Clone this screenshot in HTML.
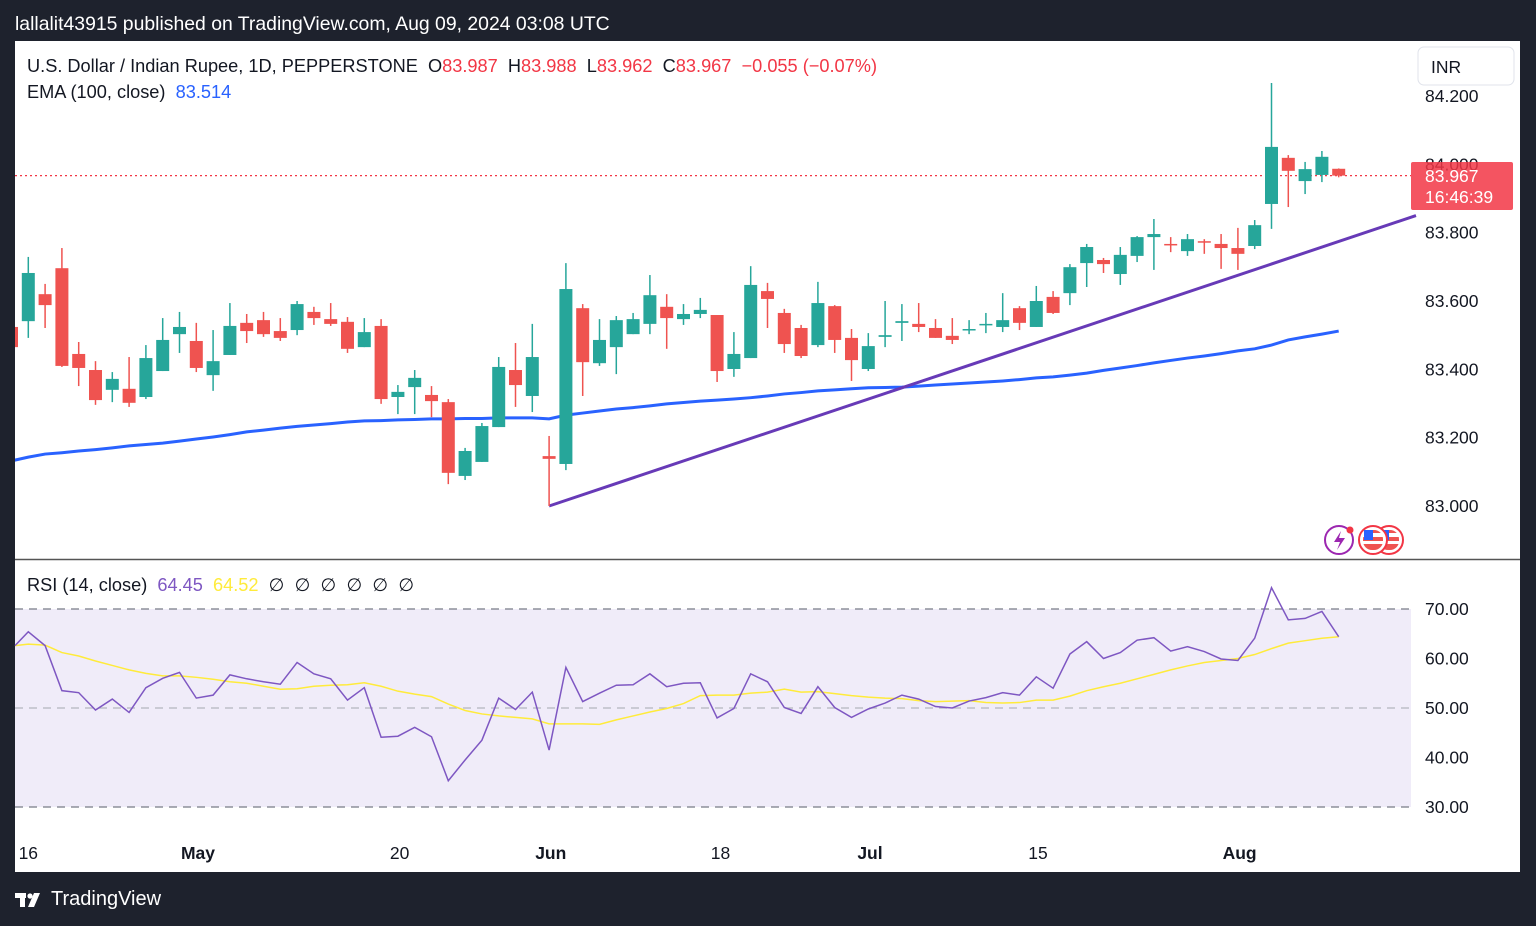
<!DOCTYPE html>
<html><head><meta charset="utf-8">
<style>
html,body{margin:0;padding:0;background:#1e222d;width:1536px;height:926px;overflow:hidden;font-family:"Liberation Sans",sans-serif;}
#hdr{position:absolute;left:15px;top:13px;color:#fff;font-size:19.4px;}
#chart{position:absolute;left:0;top:0;}
#ftr{position:absolute;left:15px;top:888px;color:#fff;font-size:20px;display:flex;align-items:center;gap:6px;}
</style></head><body>
<div id="hdr">lallalit43915 published on TradingView.com, Aug 09, 2024 03:08 UTC</div>
<svg id="chart" width="1536" height="926" xmlns="http://www.w3.org/2000/svg"></svg>
<div id="ftr"><svg width="30" height="20" viewBox="0 0 30 20"><rect x="0" y="3" width="11" height="5" fill="#fff"/><rect x="5" y="3" width="5" height="14" fill="#fff"/><circle cx="15" cy="6" r="2.6" fill="#fff"/><polygon points="19,3 25,3 19,17 13,17" fill="#fff"/></svg><span>TradingView</span></div>
<script>
const opens=[83.524,83.541,83.620,83.696,83.445,83.398,83.340,83.343,83.319,83.395,83.503,83.483,83.383,83.442,83.536,83.544,83.512,83.515,83.568,83.547,83.539,83.465,83.527,83.319,83.348,83.325,83.304,83.088,83.129,83.231,83.398,83.322,83.146,83.123,83.579,83.418,83.465,83.503,83.533,83.583,83.547,83.562,83.559,83.401,83.433,83.629,83.565,83.521,83.471,83.585,83.492,83.401,83.495,83.536,83.533,83.521,83.498,83.515,83.530,83.524,83.579,83.524,83.612,83.623,83.711,83.720,83.679,83.732,83.787,83.767,83.746,83.775,83.767,83.755,83.761,83.884,84.019,83.951,83.969,83.987];
const highs=[83.544,83.729,83.650,83.755,83.480,83.424,83.392,83.436,83.471,83.550,83.568,83.536,83.515,83.594,83.562,83.568,83.550,83.600,83.583,83.594,83.553,83.550,83.547,83.354,83.398,83.351,83.313,83.170,83.243,83.436,83.477,83.533,83.205,83.711,83.591,83.547,83.556,83.565,83.676,83.620,83.591,83.609,83.559,83.509,83.702,83.653,83.577,83.530,83.656,83.588,83.518,83.506,83.600,83.591,83.594,83.547,83.550,83.544,83.565,83.623,83.585,83.644,83.629,83.708,83.767,83.726,83.758,83.790,83.840,83.787,83.796,83.781,83.796,83.814,83.837,84.238,84.027,84.007,84.039,83.988];
const lows=[83.457,83.492,83.521,83.407,83.351,83.296,83.304,83.290,83.313,83.395,83.448,83.392,83.337,83.442,83.477,83.495,83.483,83.500,83.530,83.527,83.448,83.465,83.299,83.269,83.269,83.260,83.064,83.076,83.129,83.231,83.290,83.275,83.000,83.105,83.322,83.410,83.386,83.503,83.503,83.460,83.530,83.550,83.363,83.378,83.433,83.521,83.448,83.433,83.465,83.448,83.366,83.395,83.465,83.483,83.509,83.492,83.474,83.503,83.506,83.509,83.515,83.524,83.562,83.588,83.641,83.682,83.647,83.714,83.691,83.743,83.732,83.738,83.694,83.691,83.752,83.811,83.875,83.913,83.948,83.962];
const closes=[83.465,83.682,83.588,83.410,83.404,83.310,83.372,83.302,83.433,83.486,83.524,83.404,83.424,83.527,83.512,83.503,83.492,83.591,83.550,83.533,83.460,83.509,83.313,83.334,83.375,83.307,83.097,83.161,83.234,83.407,83.354,83.436,83.138,83.635,83.421,83.486,83.544,83.547,83.617,83.550,83.562,83.574,83.395,83.445,83.647,83.606,83.474,83.439,83.594,83.486,83.427,83.468,83.500,83.541,83.524,83.492,83.486,83.518,83.533,83.544,83.536,83.600,83.565,83.699,83.758,83.708,83.735,83.787,83.796,83.764,83.781,83.773,83.755,83.738,83.822,84.051,83.981,83.986,84.022,83.967];
const ema=[83.132,83.143,83.152,83.156,83.161,83.165,83.170,83.176,83.180,83.184,83.190,83.196,83.202,83.209,83.217,83.222,83.228,83.233,83.237,83.241,83.246,83.249,83.250,83.252,83.253,83.255,83.255,83.256,83.256,83.258,83.258,83.258,83.255,83.266,83.272,83.278,83.284,83.288,83.293,83.299,83.303,83.307,83.310,83.313,83.317,83.322,83.328,83.332,83.337,83.340,83.343,83.346,83.347,83.348,83.351,83.354,83.357,83.360,83.363,83.366,83.370,83.375,83.378,83.383,83.389,83.397,83.404,83.411,83.419,83.426,83.433,83.439,83.446,83.454,83.460,83.471,83.486,83.495,83.503,83.512];
const rsi=[62.6,65.4,62.6,53.5,53.1,49.6,51.8,49.1,54.1,56.0,57.2,52.0,52.6,56.7,55.9,55.3,54.8,59.2,56.9,55.9,51.6,54.1,44.1,44.3,46.1,44.2,35.3,39.5,43.5,52.0,49.7,53.2,41.5,58.2,51.3,53.0,54.6,54.7,56.9,54.3,55.0,55.1,48.0,49.9,56.9,55.3,50.1,48.9,54.3,50.1,48.1,49.8,51.0,52.6,51.8,50.3,50.0,51.4,52.1,53.1,52.6,56.3,54.0,60.9,63.4,60.0,61.2,63.7,64.2,61.5,62.4,61.4,59.9,59.6,64.1,74.3,67.8,68.1,69.5,64.4];
const rsiMa=[62.6,62.9,62.7,61.2,60.5,59.5,58.6,57.7,57.0,56.5,56.5,56.2,55.8,55.3,55.0,54.4,53.8,53.9,54.4,54.6,54.7,55.1,54.4,53.4,52.8,52.3,50.8,49.5,48.8,48.4,48.1,47.8,46.8,46.8,46.8,46.7,47.6,48.4,49.2,49.9,50.9,52.5,52.6,52.6,53.0,53.2,53.8,53.2,53.3,52.9,52.5,52.2,52.0,51.9,51.5,51.3,51.4,51.5,51.1,51.0,51.1,51.6,51.6,52.4,53.5,54.3,55.0,55.9,56.8,57.7,58.5,59.2,59.6,60.0,60.8,62.0,63.1,63.6,64.1,64.4];
const priceTicks=[84.2,84.0,83.8,83.6,83.4,83.2,83.0];
const rsiTicks=[70,60,50,40,30];
const timeLabels=["16","May","20","Jun","18","Jul","15","Aug"];
const timeIdx=[1,11.1,23.1,32.1,42.2,51.1,61.1,73.1];
const trendStart=[32,83.0];
const trendEnd=[83.6,83.85];
const lastPrice=83.967;

const svg=document.getElementById('chart');
const NS='http://www.w3.org/2000/svg';
const X=i=>11.5+i*16.8;
const Y=p=>506-(p-83)*341.67;
const R=v=>708-(v-50)*4.95;
function mk(tag,attrs,parent){const e=document.createElementNS(NS,tag);for(const k in attrs)e.setAttribute(k,attrs[k]);(parent||svg).appendChild(e);return e;}
function txt(x,y,s,attrs,name){const t=mk('text',Object.assign({x:x,y:y,'font-family':'Liberation Sans, sans-serif','font-size':17,fill:'#131722'},attrs));t.textContent=s;


return t;}

const bg=mk('rect',{x:15,y:41,width:1505,height:831,fill:'#fff'});


const sep=mk('line',{x1:15,x2:1520,y1:559.5,y2:559.5,stroke:'#555',"stroke-width":1.5});



const band=mk('rect',{x:15,y:R(70),width:1396,height:R(30)-R(70),fill:'#f0ecf9'});


[70,50,30].forEach(v=>{const l=mk('line',{x1:15,x2:1411,y1:R(v),y2:R(v),stroke:v===50?'#b2b5be':'#787b86','stroke-dasharray':'8 6','stroke-width':1.2});

});

priceTicks.forEach(p=>{txt(1425,Y(p)+6,p.toFixed(3),{'font-size':17.5},'price-tick');});
rsiTicks.forEach(v=>{txt(1425,R(v)+6,v.toFixed(2),{'font-size':17.5},'rsi-tick');});
timeLabels.forEach((s,k)=>{const bold=isNaN(+s);txt(X(timeIdx[k]),859,s,{'text-anchor':'middle','font-weight':bold?'bold':'normal','font-size':17.5},'time-label');});

let d='';ema.forEach((v,i)=>{d+=(i?'L':'M')+X(i)+' '+Y(v);});
const emaPath=mk('path',{d:'M15 '+Y(ema[0])+' '+d.replace(/^M/,'L'),fill:'none',stroke:'#2962ff','stroke-width':3});



const tl=mk('line',{x1:X(trendStart[0]),y1:Y(trendStart[1]),x2:X(trendEnd[0]),y2:Y(trendEnd[1]),stroke:'#673ab7','stroke-width':3});



const lp=mk('line',{x1:15,x2:1411,y1:Y(lastPrice),y2:Y(lastPrice),stroke:'#f23645','stroke-dasharray':'2 3','stroke-width':1.3});



opens.forEach((o,i)=>{
  const c=closes[i],h=highs[i],l=lows[i];
  const col=c>=o?'#26a69a':'#ef5350';
  const g=mk('g',{});
  
  
  const x=X(i);
  mk('line',{x1:x,x2:x,y1:Y(h),y2:Y(l),stroke:col,'stroke-width':1.5},g);
  const top=Math.min(Y(o),Y(c));const hgt=Math.max(Math.abs(Y(o)-Y(c)),1.5);
  mk('rect',{x:x-6.5,y:top,width:13,height:hgt,fill:col},g);
});
const cover=mk('rect',{x:0,y:41,width:15,height:831,fill:'#1e222d'});



let dr='',dm='';
rsi.forEach((v,i)=>{dr+=(i?'L':'M')+Math.max(X(i),15)+' '+R(v);});
rsiMa.forEach((v,i)=>{dm+=(i?'L':'M')+Math.max(X(i),15)+' '+R(v);});
const maP=mk('path',{d:dm,fill:'none',stroke:'#ffeb3b','stroke-width':1.5});


const rP=mk('path',{d:dr,fill:'none',stroke:'#7e57c2','stroke-width':1.5});



const pl=mk('rect',{x:1411,y:162,width:102,height:48,rx:2,fill:'#f23645',opacity:0.85});


txt(1425,182,'83.967',{fill:'#fff','font-size':17.5},'last-price-value');
txt(1425,203,'16:46:39',{fill:'#fff','font-size':17.5},'countdown-timer');

const inr=mk('rect',{x:1418,y:47,width:96,height:38,rx:6,fill:'#fff',stroke:'#e0e3eb'});


txt(1431,73,'INR',{'font-size':17.5},'currency-label');

const lg=txt(27,72,'',{'font-size':18.2,style:'white-space:pre'},'symbol-legend');
[['U.S. Dollar / Indian Rupee, 1D, PEPPERSTONE  O','#131722'],['83.987','#f23645'],['  H','#131722'],['83.988','#f23645'],['  L','#131722'],['83.962','#f23645'],['  C','#131722'],['83.967','#f23645'],['  −0.055 (−0.07%)','#f23645']].forEach(([s,c])=>{const t=mk('tspan',{fill:c},lg);t.textContent=s;});
const el=txt(27,98,'',{'font-size':18.2,style:'white-space:pre'},'ema-legend');
[['EMA (100, close)  ','#131722'],['83.514','#2962ff']].forEach(([s,c])=>{const t=mk('tspan',{fill:c},el);t.textContent=s;});
const rl=txt(27,591,'',{'font-size':18.2,style:'white-space:pre'},'rsi-legend');
[['RSI (14, close)  ','#131722'],['64.45  ','#7e57c2'],['64.52  ','#ffeb3b'],['∅  ∅  ∅  ∅  ∅  ∅','#131722']].forEach(([s,c])=>{const t=mk('tspan',{fill:c},rl);t.textContent=s;});

const ev=mk('g',{});


mk('circle',{cx:1339,cy:540,r:14,fill:'#fff',stroke:'#9c27b0','stroke-width':2},ev);
mk('path',{d:'M1341 531 L1334 542 L1340 542 L1337 550 L1345 538 L1339 538 Z',fill:'#9c27b0'},ev);
mk('circle',{cx:1350,cy:530,r:3.5,fill:'#f23645'},ev);
[1389,1373].forEach(cx=>{mk('circle',{cx:cx,cy:540,r:14,fill:'#fff',stroke:'#f23645','stroke-width':2},ev);
mk('rect',{x:cx-10,y:530,width:20,height:20,rx:9,fill:'#ef5350'},ev);
mk('rect',{x:cx-10,y:533,width:20,height:4,fill:'#fff'},ev);
mk('rect',{x:cx-10,y:541,width:20,height:3,fill:'#fff'},ev);
mk('rect',{x:cx-9,y:530,width:9,height:10,fill:'#2962ff'},ev);});
</script>
</body></html>
